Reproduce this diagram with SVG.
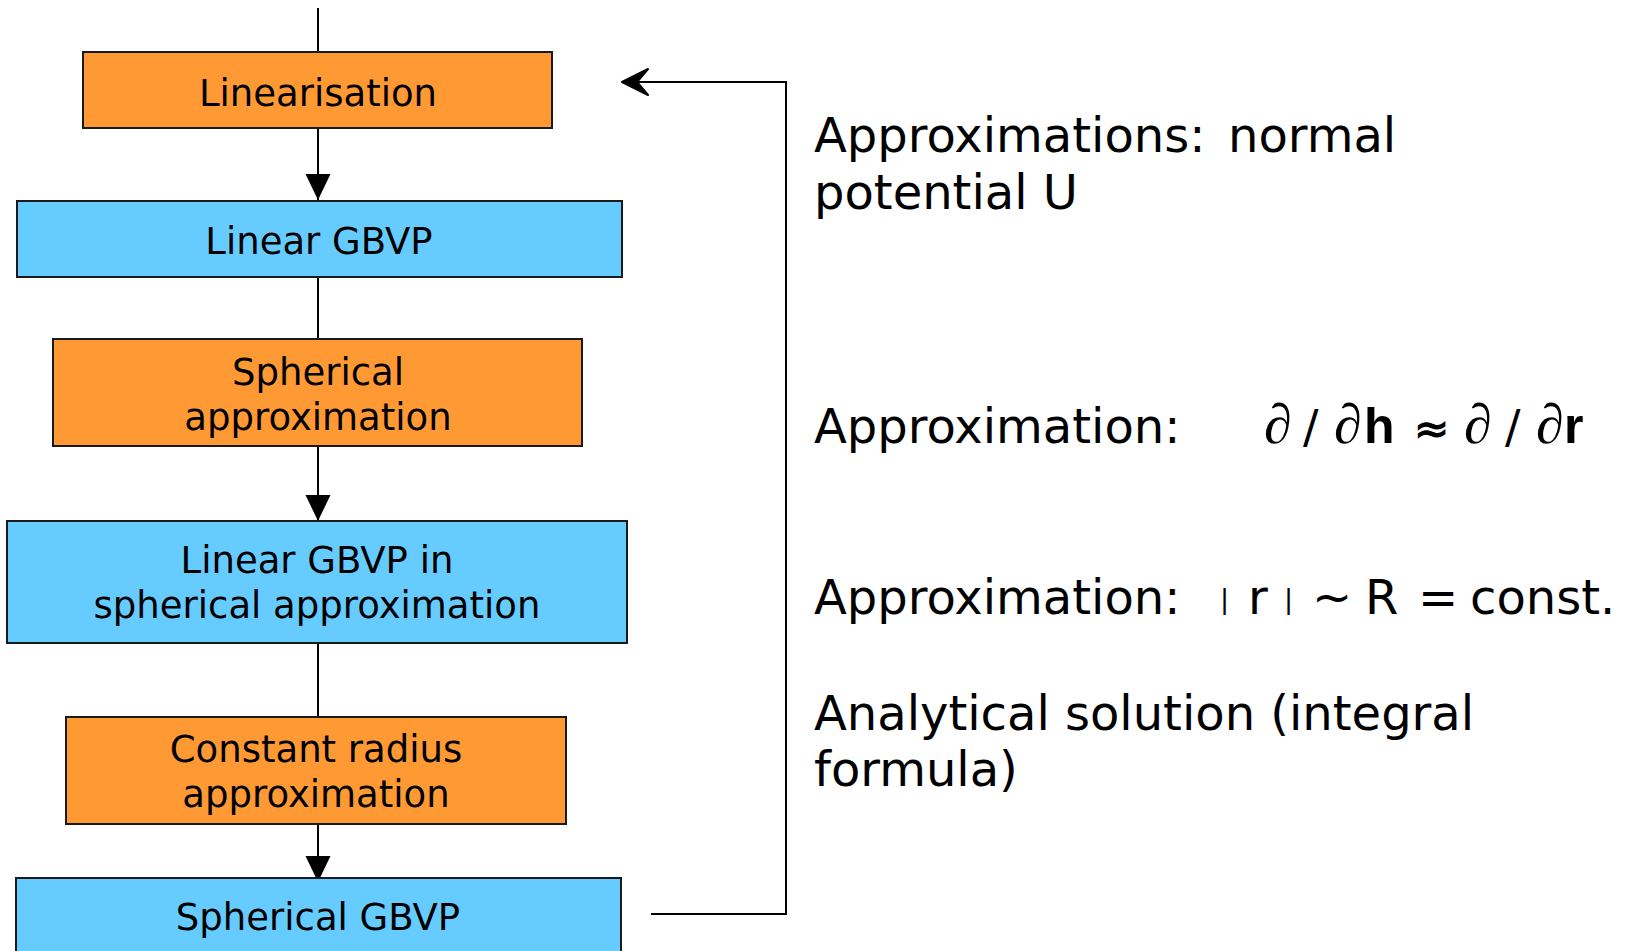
<svg xmlns="http://www.w3.org/2000/svg" width="1625" height="951" viewBox="0 0 1625 951">
<defs>
<style>
.box{stroke:#1a1a1a;stroke-width:2}
.orange{fill:#FF9933}
.blue{fill:#66CCFF}
.lbl{font-family:"DejaVu Sans","Verdana","Liberation Sans",sans-serif;font-size:37px;fill:#000;text-anchor:middle}
.note{font-family:"DejaVu Sans","Verdana","Liberation Sans",sans-serif;font-size:48px;fill:#000}
.conn{stroke:#000;stroke-width:2;fill:none}
.sym{font-family:"Liberation Serif","Times New Roman",serif;font-style:italic;font-size:56px}
.var{font-family:"Liberation Sans",Arial,sans-serif;font-weight:bold;font-size:50px}
</style>
<marker id="tri" markerUnits="userSpaceOnUse" markerWidth="26" markerHeight="28" refX="26" refY="12.5" orient="auto">
<path d="M0,0 L26,12.5 L0,25 Z" fill="#000"/>
</marker>
<marker id="barb" markerUnits="userSpaceOnUse" markerWidth="30" markerHeight="30" refX="27" refY="13" orient="auto" overflow="visible">
<path d="M1,0 L12,13 L1,26 L27,13 Z" fill="#000" stroke="#000" stroke-width="2" stroke-linejoin="round"/>
</marker>
</defs>

<g id="connectors">
<line class="conn" x1="318" y1="8" x2="318" y2="52"/>
<line class="conn" x1="318" y1="129" x2="318" y2="200" marker-end="url(#tri)"/>
<line class="conn" x1="318" y1="277" x2="318" y2="339"/>
<line class="conn" x1="318" y1="446" x2="318" y2="521" marker-end="url(#tri)"/>
<line class="conn" x1="318" y1="643" x2="318" y2="717"/>
<line class="conn" x1="318" y1="824" x2="318" y2="882" marker-end="url(#tri)"/>
<polyline class="conn" points="651,914 786,914 786,82 622,82" marker-end="url(#barb)"/>
</g>

<g id="node-linearisation">
<rect class="box orange" x="83" y="52" width="469" height="76"/>
<text class="lbl" x="318" y="106">Linearisation</text>
</g>

<g id="node-linear-gbvp">
<rect class="box blue" x="17" y="201" width="605" height="76"/>
<text class="lbl" x="319" y="254">Linear GBVP</text>
</g>

<g id="node-spherical-approx">
<rect class="box orange" x="53" y="339" width="529" height="107"/>
<text class="lbl" x="318" y="385">Spherical</text>
<text class="lbl" x="318" y="430">approximation</text>
</g>

<g id="node-linear-gbvp-spherical">
<rect class="box blue" x="7" y="521" width="620" height="122"/>
<text class="lbl" x="317" y="573">Linear GBVP in</text>
<text class="lbl" x="317" y="618">spherical approximation</text>
</g>

<g id="node-constant-radius">
<rect class="box orange" x="66" y="717" width="500" height="107"/>
<text class="lbl" x="316" y="762">Constant radius</text>
<text class="lbl" x="316" y="807">approximation</text>
</g>

<g id="node-spherical-gbvp">
<rect class="box blue" x="16" y="878" width="605" height="90"/>
<text class="lbl" x="318" y="930">Spherical GBVP</text>
</g>

<g id="notes">
<text class="note" x="814" y="152">Approximations: <tspan x="1228">normal</tspan></text>
<text class="note" x="814" y="209">potential U</text>

<text class="note" x="814" y="443">Approximation:</text>
<text class="note" y="443"><tspan class="sym" x="1264">∂</tspan><tspan x="1303" font-size="46">/</tspan><tspan class="sym" x="1334">∂</tspan><tspan class="var" x="1364">h</tspan><tspan x="1414" font-size="42" stroke="#000" stroke-width="1.2">≈</tspan><tspan class="sym" x="1464">∂</tspan><tspan x="1505" font-size="46">/</tspan><tspan class="sym" x="1536">∂</tspan><tspan class="var" x="1564">r</tspan></text>

<text class="note" x="814" y="614">Approximation:</text>
<text class="note" y="614"><tspan x="1220" font-size="27" dy="-6">|</tspan><tspan x="1248" dy="6">r</tspan><tspan x="1284" font-size="27" dy="-6">|</tspan><tspan x="1312" dy="6">~</tspan><tspan x="1365">R</tspan><tspan x="1418">=</tspan><tspan x="1470">const.</tspan></text>

<text class="note" x="814" y="730">Analytical solution (integral</text>
<text class="note" x="814" y="786">formula)</text>
</g>
</svg>
